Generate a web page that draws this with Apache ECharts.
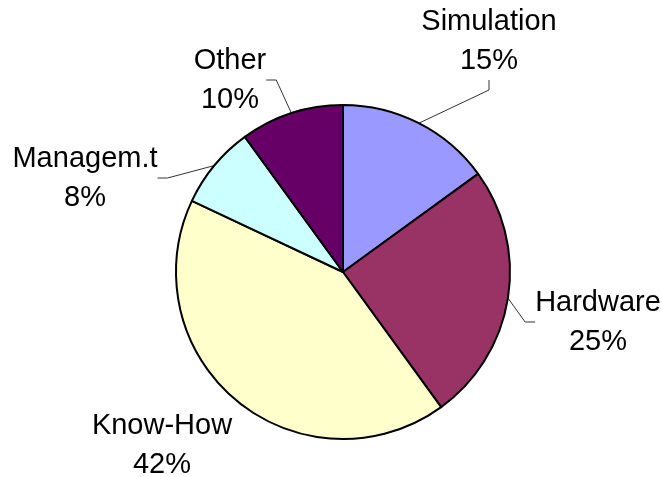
<!DOCTYPE html>
<html>
<head>
<meta charset="utf-8">
<script src="https://cdn.jsdelivr.net/npm/echarts@6/dist/echarts.min.js"></script>
<style>
  html, body { margin: 0; padding: 0; background: #fff; }
  #pie { width: 662px; height: 477px; }
</style>
</head>
<body>
<div id="pie"></div>
<script>
// data
const categories = ["Simulation", "Hardware", "Know-How", "Managem.t", "Other"];
const shares = [15, 25, 42, 8, 10];
const sliceColors = ["#9999FF", "#993366", "#FFFFCC", "#CCFFFF", "#660066"];

// where each label block sits (centre of the two lines)
const labelSpots = [
  [489, 41],
  [598, 322],
  [162, 445],
  [85, 178],
  [230, 80],
];
const showLeader = [true, true, false, true, true];

const myPie = echarts.init(document.getElementById("pie"));

let option = {
  animation: false,
  series: [
    {
      type: "pie",
      center: [343, 272],
      radius: 167,
      startAngle: 90,
      clockwise: true,
      itemStyle: {
        borderColor: "#000",
        borderWidth: 2,
      },
      label: {
        show: true,
        position: "outside",
        formatter: "{b}\n{d}%",
        fontFamily: "Liberation Sans, Arial, sans-serif",
        fontSize: 29,
        lineHeight: 39,
        color: "#000",
        align: "center",
        overflow: "none",
      },
      labelLine: {
        show: true,
        length: 12,
        length2: 10,
        lineStyle: { color: "#333", width: 1 },
      },
      labelLayout: function (params) {
        const p = labelSpots[params.dataIndex];
        return { x: p[0], y: p[1], align: "center", verticalAlign: "middle" };
      },
      emphasis: { disabled: true },
      data: categories.map((name, i) => ({
        name: name,
        value: shares[i],
        itemStyle: { color: sliceColors[i] },
        labelLine: { show: showLeader[i] },
      })),
    },
  ],
};
myPie.setOption(option);
</script>
</body>
</html>
